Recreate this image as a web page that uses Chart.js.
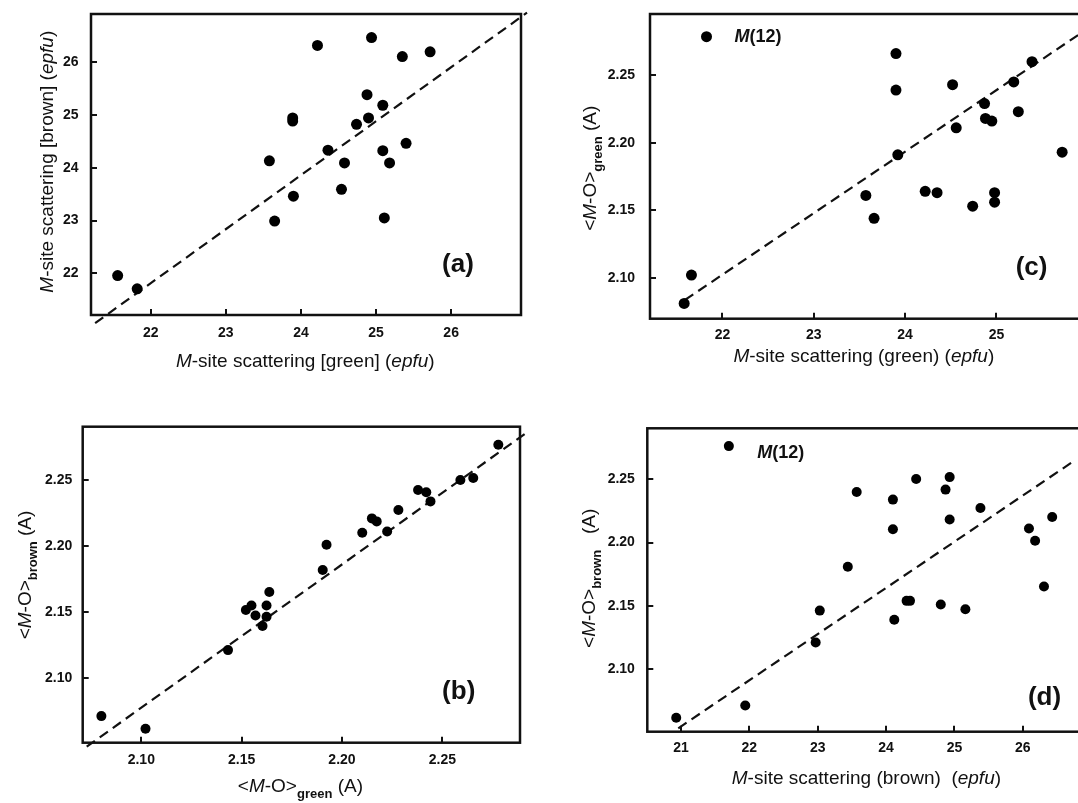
<!DOCTYPE html>
<html>
<head>
<meta charset="utf-8">
<script src="https://cdn.jsdelivr.net/npm/chart.js@4.4.0/dist/chart.umd.min.js"></script>
<style>
  html, body { margin: 0; padding: 0; background: #fff; overflow: hidden; }
  body { width: 1078px; height: 803px; position: relative; }
  canvas { position: absolute; }
</style>
</head>
<body>
<canvas id="panelA"></canvas>
<canvas id="panelB"></canvas>
<canvas id="panelC"></canvas>
<canvas id="panelD"></canvas>
<script>
// ---- (a) M-site scattering: green vs brown (epfu)
const aGreen = [21.56, 21.82, 23.58, 23.65, 23.90, 23.89, 23.89, 24.22, 24.36, 24.54, 24.58,
                24.74, 24.88, 24.90, 24.94, 25.09, 25.09, 25.11, 25.18, 25.35, 25.40, 25.72];
const aBrown = [21.96, 21.71, 24.13, 22.99, 23.46, 24.94, 24.88, 26.31, 24.33, 23.59, 24.09,
                24.82, 25.38, 24.94, 26.46, 25.18, 24.32, 23.05, 24.09, 26.10, 24.46, 26.19];
const aFitX = [21.26, 27.01];
const aFitY = [21.06, 26.93];

// ---- (b) <M-O> green vs <M-O> brown (A)
const bGreen = [2.0801, 2.1021, 2.1432, 2.1521, 2.1549, 2.1569, 2.1604, 2.1624, 2.1624, 2.1638, 2.1904, 2.1923,
                2.2101, 2.2149, 2.2173, 2.2225, 2.2281, 2.2379, 2.2420, 2.2441, 2.2590, 2.2654, 2.2779];
const bBrown = [2.0711, 2.0615, 2.1212, 2.1516, 2.1551, 2.1475, 2.1395, 2.1551, 2.1465, 2.1653, 2.1820, 2.2012,
                2.2103, 2.2212, 2.2189, 2.2113, 2.2275, 2.2427, 2.2411, 2.2341, 2.2503, 2.2518, 2.2771];
const bFitX = [2.0728, 2.2934];
const bFitY = [2.0479, 2.2878];

// ---- (c) M-site scattering (green) vs <M-O> green
const cGreen = [21.58, 21.66, 21.825, 23.57, 23.66, 23.90, 23.90, 23.92, 24.22, 24.35, 24.52,
                24.56, 24.74, 24.87, 24.88, 24.95, 24.98, 24.98, 25.19, 25.24, 25.39, 25.72];
const cMO    = [2.081, 2.102, 2.2785, 2.161, 2.144, 2.266, 2.239, 2.191, 2.164, 2.163, 2.243,
                2.211, 2.153, 2.229, 2.218, 2.216, 2.163, 2.156, 2.245, 2.223, 2.260, 2.193];
const cFitX = [21.589, 26.0];
const cFitY = [2.0836, 2.2845];

// ---- (d) M-site scattering (brown) vs <M-O> brown
const dBrown = [20.93, 21.70, 21.94, 22.97, 23.03, 23.44, 23.57, 24.10, 24.10, 24.12, 24.30, 24.35,
                24.44, 24.80, 24.87, 24.93, 24.93, 25.16, 25.38, 26.09, 26.18, 26.31, 26.43];
const dMO    = [2.0614, 2.2763, 2.0711, 2.1210, 2.1462, 2.1809, 2.2400, 2.2340, 2.2106, 2.1389, 2.1539, 2.1539,
                2.2503, 2.1510, 2.2419, 2.2518, 2.2182, 2.1473, 2.2274, 2.2111, 2.2014, 2.1652, 2.2203];
const dFitX = [20.96, 26.72];
const dFitY = [2.0531, 2.2635];

// ---- tick values and labels
const aTicks = [22, 23, 24, 25, 26];
const aTickLabels = ['22', '23', '24', '25', '26'];
const cXTicks = [22, 23, 24, 25];
const cXTickLabels = ['22', '23', '24', '25'];
const dXTicks = [21, 22, 23, 24, 25, 26];
const dXTickLabels = ['21', '22', '23', '24', '25', '26'];
const moTicks = [2.10, 2.15, 2.20, 2.25];
const moTickLabels = ['2.10', '2.15', '2.20', '2.25'];

const FAMILY = '"Liberation Sans", Arial, Helvetica, sans-serif';
const INK = '#111';

function fontFor(style, size) {
  switch (style) {
    case 'i':  return `italic ${size}px ${FAMILY}`;
    case 'b':  return `bold ${size}px ${FAMILY}`;
    case 'bi': return `italic bold ${size}px ${FAMILY}`;
    case 's':  return `bold ${Math.round(size * 0.68)}px ${FAMILY}`;
    default:   return `${size}px ${FAMILY}`;
  }
}

// Draws a run of mixed-style text centred on (x, y); rotated titles read bottom-to-top.
function drawRich(ctx, segs, x, y, size, rotated, align) {
  ctx.save();
  ctx.translate(x, y);
  if (rotated) ctx.rotate(-Math.PI / 2);
  const widths = segs.map(([t, s]) => { ctx.font = fontFor(s, size); return ctx.measureText(t).width; });
  const total = widths.reduce((p, w) => p + w, 0);
  let cur = align === 'left' ? 0 : -total / 2;
  ctx.textBaseline = 'middle';
  ctx.textAlign = 'left';
  ctx.fillStyle = INK;
  segs.forEach(([t, s], i) => {
    ctx.font = fontFor(s, size);
    ctx.fillText(t, cur, s === 's' ? size * 0.4 : 0);
    cur += widths[i];
  });
  ctx.restore();
}

// Frame, inward tick marks, axis titles and panel captions.
const panelDecor = {
  id: 'panelDecor',
  afterDraw(chart, args, opts) {
    const { ctx, chartArea: a, scales } = chart;
    ctx.save();
    ctx.strokeStyle = INK;
    ctx.lineWidth = 2;
    ctx.beginPath();
    scales.x.ticks.forEach(t => {
      const px = Math.round(scales.x.getPixelForValue(t.value));
      ctx.moveTo(px, a.bottom); ctx.lineTo(px, a.bottom - 6);
    });
    scales.y.ticks.forEach(t => {
      const py = Math.round(scales.y.getPixelForValue(t.value));
      ctx.moveTo(a.left, py); ctx.lineTo(a.left + 6, py);
    });
    ctx.stroke();
    ctx.lineWidth = 2.5;
    ctx.strokeRect(a.left, a.top, a.right - a.left, a.bottom - a.top);
    ctx.restore();

    const ox = opts.ox, oy = opts.oy;
    drawRich(ctx, opts.xTitle, opts.xTitlePos[0] - ox, opts.xTitlePos[1] - oy, 19, false);
    drawRich(ctx, opts.yTitle, opts.yTitlePos[0] - ox, opts.yTitlePos[1] - oy, 19, true);
    drawRich(ctx, [[opts.tag, 'b']], opts.tagPos[0] - ox, opts.tagPos[1] - oy, 26, false);
    if (opts.note) {
      drawRich(ctx, opts.note, opts.notePos[0] - ox, opts.notePos[1] - oy, 18, false, 'left');
    }
  }
};

function fixAxis(size, horizontal) {
  return s => {
    if (horizontal) s.height = size; else s.width = size;
    s.paddingTop = 0; s.paddingBottom = 0; s.paddingLeft = 0; s.paddingRight = 0;
  };
}

function makePanel(p) {
  const canvas = document.getElementById(p.id);
  canvas.width = p.cw; canvas.height = p.ch;
  canvas.style.left = p.cx + 'px'; canvas.style.top = p.cy + 'px';
  canvas.style.width = p.cw + 'px'; canvas.style.height = p.ch + 'px';
  const YW = 50, XH = 30;
  const padding = {
    left: p.box.l - p.cx - YW,
    top: p.box.t - p.cy,
    right: p.cx + p.cw - p.box.r,
    bottom: p.cy + p.ch - p.box.b - XH
  };
  const tickFont = { family: FAMILY, size: 14, weight: 'bold' };
  new Chart(canvas, {
    type: 'scatter',
    data: {
      datasets: [
        {
          data: p.xs.map((x, i) => ({ x, y: p.ys[i] })),
          backgroundColor: '#000', borderWidth: 0,
          pointRadius: p.r, pointHoverRadius: p.r
        },
        {
          data: p.fitX.map((x, i) => ({ x, y: p.fitY[i] })),
          showLine: true, borderColor: INK, borderWidth: 2.2, borderDash: [10, 6],
          pointRadius: 0, clip: false, fill: false
        }
      ]
    },
    options: {
      responsive: false, animation: false, devicePixelRatio: 1,
      layout: { padding },
      events: [],
      plugins: {
        legend: { display: false }, tooltip: { enabled: false },
        panelDecor: Object.assign({ ox: p.cx, oy: p.cy }, p.decor)
      },
      scales: {
        x: {
          type: 'linear', min: p.xRange[0], max: p.xRange[1],
          grid: { display: false, drawTicks: false }, border: { display: false },
          ticks: { font: tickFont, color: INK, padding: p.xPad, maxRotation: 0,
                   callback: (v, i) => p.xLabels[i] },
          afterBuildTicks: s => { s.ticks = p.xTicks.map(v => ({ value: v })); },
          afterFit: fixAxis(XH, true)
        },
        y: {
          type: 'linear', min: p.yRange[0], max: p.yRange[1],
          grid: { display: false, drawTicks: false }, border: { display: false },
          ticks: { font: tickFont, color: INK, padding: p.yPad,
                   callback: (v, i) => p.yLabels[i] },
          afterBuildTicks: s => { s.ticks = p.yTicks.map(v => ({ value: v })); },
          afterFit: fixAxis(YW, false)
        }
      }
    },
    plugins: [panelDecor]
  });
}

const scatTitle = (colour, paren) => paren
  ? [['M', 'i'], ['-site scattering (' + colour + ')' + (colour === 'brown' ? '  (' : ' ('), 'n'], ['epfu', 'i'], [')', 'n']]
  : [['M', 'i'], ['-site scattering [' + colour + '] (', 'n'], ['epfu', 'i'], [')', 'n']];
const moTitle = (colour, gap) => [['<', 'n'], ['M', 'i'], ['-O>', 'n'], [colour, 's'], [gap + '(A)', 'n']];
const m12 = [['M', 'bi'], ['(12)', 'b']];

makePanel({
  id: 'panelA', cx: 0, cy: 0, cw: 540, ch: 395,
  box: { l: 91, t: 14, r: 521, b: 315 },
  xRange: [21.205, 26.93], yRange: [21.214, 26.905],
  xs: aGreen, ys: aBrown, fitX: aFitX, fitY: aFitY, r: 5.5,
  xTicks: aTicks, xLabels: aTickLabels, yTicks: aTicks, yLabels: aTickLabels,
  xPad: 9.9, yPad: 12.5,
  decor: {
    xTitle: scatTitle('green', false), xTitlePos: [305.3, 361.7],
    yTitle: scatTitle('brown', false), yTitlePos: [47.3, 161.7],
    tag: '(a)', tagPos: [458, 265]
  }
});

makePanel({
  id: 'panelB', cx: 0, cy: 400, cw: 540, ch: 403,
  box: { l: 82.7, t: 426.7, r: 520, b: 742.7 },
  xRange: [2.0708, 2.2887], yRange: [2.0509, 2.2908],
  xs: bGreen, ys: bBrown, fitX: bFitX, fitY: bFitY, r: 5,
  xTicks: moTicks, xLabels: moTickLabels, yTicks: moTicks, yLabels: moTickLabels,
  xPad: 8.9, yPad: 10.4,
  decor: {
    xTitle: moTitle('green', ' '), xTitlePos: [300.4, 786.7],
    yTitle: moTitle('brown', ' '), yTitlePos: [25.8, 575],
    tag: '(b)', tagPos: [458.7, 692.3]
  }
});

makePanel({
  id: 'panelC', cx: 540, cy: 0, cw: 560, ch: 395,
  box: { l: 650, t: 14, r: 1090, b: 318.7 },
  xRange: [21.206, 26.025], yRange: [2.0697, 2.2953],
  xs: cGreen, ys: cMO, fitX: cFitX, fitY: cFitY, r: 5.5,
  xTicks: cXTicks, xLabels: cXTickLabels, yTicks: moTicks, yLabels: moTickLabels,
  xPad: 7.9, yPad: 15,
  decor: {
    xTitle: scatTitle('green', true), xTitlePos: [863.8, 356.7],
    yTitle: moTitle('green', ' '), yTitlePos: [591.2, 168.3],
    tag: '(c)', tagPos: [1031.6, 267.5],
    note: m12, notePos: [734.5, 37]
  }
});

makePanel({
  id: 'panelD', cx: 540, cy: 400, cw: 560, ch: 403,
  box: { l: 647.3, t: 428.3, r: 1090, b: 731.7 },
  xRange: [20.507, 26.983], yRange: [2.0504, 2.2904],
  xs: dBrown, ys: dMO, fitX: dFitX, fitY: dFitY, r: 5,
  xTicks: dXTicks, xLabels: dXTickLabels, yTicks: moTicks, yLabels: moTickLabels,
  xPad: 8.2, yPad: 12.4,
  decor: {
    xTitle: scatTitle('brown', true), xTitlePos: [866.4, 778.3],
    yTitle: moTitle('brown', '   '), yTitlePos: [589.4, 578.3],
    tag: '(d)', tagPos: [1044.5, 698.3],
    note: m12, notePos: [757.2, 453.3]
  }
});
</script>
</body>
</html>
